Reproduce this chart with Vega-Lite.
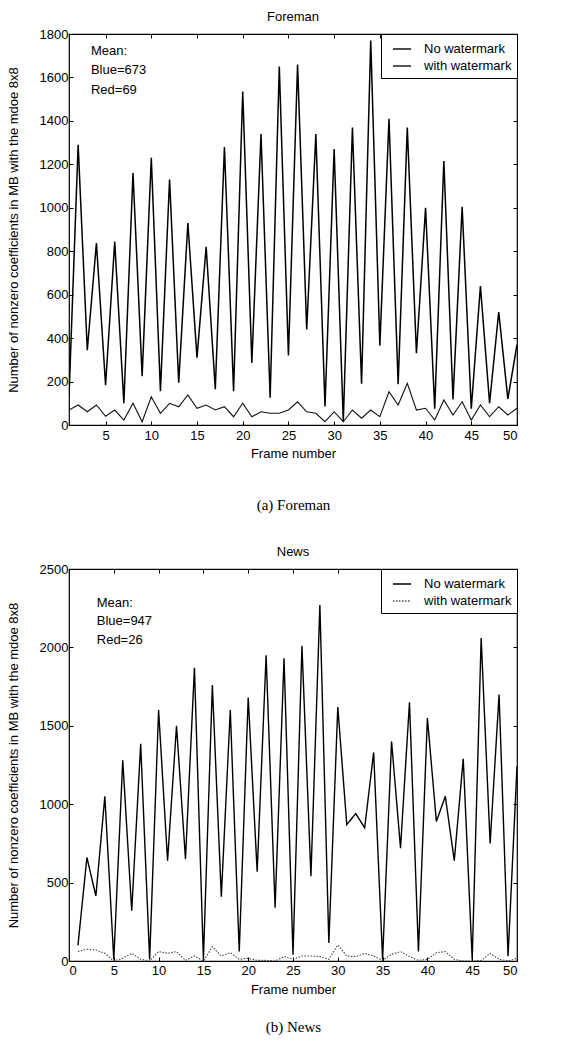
{
  "$schema": "https://vega.github.io/schema/vega-lite/v6.json",
  "background": "white",
  "padding": {"left": 6, "top": 10, "right": 5, "bottom": 5},
  "config": {
    "font": "Liberation Sans",
    "view": {"stroke": "black", "strokeWidth": 1.2},
    "axis": {"domain": false, "grid": false, "labelFont": "Liberation Sans", "labelFontSize": 13, "labelColor": "black", "tickColor": "black", "tickSize": -4, "labelPadding": 5, "titleFont": "Liberation Sans", "titleFontSize": 13, "titleFontWeight": "normal", "titleColor": "black"},
    "title": {"font": "Liberation Sans", "fontSize": 13, "fontWeight": "normal", "color": "black", "offset": 4},
    "legend": {"orient": "top-right", "offset": 0, "strokeColor": "black", "fillColor": "white", "padding": 5, "labelFont": "Liberation Sans", "labelFontSize": 13, "labelColor": "black", "symbolType": "stroke", "symbolSize": 330, "symbolStrokeWidth": 1.4, "symbolOffset": 6, "labelOffset": 12, "rowPadding": 0, "title": null},
    "concat": {"spacing": 32}
  },
  "resolve": {"scale": {"color": "independent", "strokeDash": "independent"}, "legend": {"color": "independent", "strokeDash": "independent"}},
  "datasets": {
    "foreman": [
      {"frame": 1, "value": 130, "series": "No watermark"}, {"frame": 2, "value": 1290, "series": "No watermark"}, {"frame": 3, "value": 344, "series": "No watermark"}, {"frame": 4, "value": 838, "series": "No watermark"}, {"frame": 5, "value": 183, "series": "No watermark"},
      {"frame": 6, "value": 844, "series": "No watermark"}, {"frame": 7, "value": 100, "series": "No watermark"}, {"frame": 8, "value": 1160, "series": "No watermark"}, {"frame": 9, "value": 225, "series": "No watermark"}, {"frame": 10, "value": 1230, "series": "No watermark"},
      {"frame": 11, "value": 155, "series": "No watermark"}, {"frame": 12, "value": 1130, "series": "No watermark"}, {"frame": 13, "value": 195, "series": "No watermark"}, {"frame": 14, "value": 930, "series": "No watermark"}, {"frame": 15, "value": 310, "series": "No watermark"},
      {"frame": 16, "value": 820, "series": "No watermark"}, {"frame": 17, "value": 165, "series": "No watermark"}, {"frame": 18, "value": 1280, "series": "No watermark"}, {"frame": 19, "value": 155, "series": "No watermark"}, {"frame": 20, "value": 1535, "series": "No watermark"},
      {"frame": 21, "value": 285, "series": "No watermark"}, {"frame": 22, "value": 1340, "series": "No watermark"}, {"frame": 23, "value": 125, "series": "No watermark"}, {"frame": 24, "value": 1650, "series": "No watermark"}, {"frame": 25, "value": 320, "series": "No watermark"},
      {"frame": 26, "value": 1660, "series": "No watermark"}, {"frame": 27, "value": 440, "series": "No watermark"}, {"frame": 28, "value": 1340, "series": "No watermark"}, {"frame": 29, "value": 85, "series": "No watermark"}, {"frame": 30, "value": 1270, "series": "No watermark"},
      {"frame": 31, "value": 15, "series": "No watermark"}, {"frame": 32, "value": 1370, "series": "No watermark"}, {"frame": 33, "value": 190, "series": "No watermark"}, {"frame": 34, "value": 1770, "series": "No watermark"}, {"frame": 35, "value": 365, "series": "No watermark"},
      {"frame": 36, "value": 1410, "series": "No watermark"}, {"frame": 37, "value": 188, "series": "No watermark"}, {"frame": 38, "value": 1370, "series": "No watermark"}, {"frame": 39, "value": 330, "series": "No watermark"}, {"frame": 40, "value": 1000, "series": "No watermark"},
      {"frame": 41, "value": 75, "series": "No watermark"}, {"frame": 42, "value": 1215, "series": "No watermark"}, {"frame": 43, "value": 118, "series": "No watermark"}, {"frame": 44, "value": 1005, "series": "No watermark"}, {"frame": 45, "value": 75, "series": "No watermark"},
      {"frame": 46, "value": 640, "series": "No watermark"}, {"frame": 47, "value": 100, "series": "No watermark"}, {"frame": 48, "value": 520, "series": "No watermark"}, {"frame": 49, "value": 120, "series": "No watermark"}, {"frame": 50, "value": 370, "series": "No watermark"},
      {"frame": 1, "value": 69, "series": "with watermark"}, {"frame": 2, "value": 92, "series": "with watermark"}, {"frame": 3, "value": 61, "series": "with watermark"}, {"frame": 4, "value": 92, "series": "with watermark"}, {"frame": 5, "value": 40, "series": "with watermark"},
      {"frame": 6, "value": 69, "series": "with watermark"}, {"frame": 7, "value": 23, "series": "with watermark"}, {"frame": 8, "value": 100, "series": "with watermark"}, {"frame": 9, "value": 15, "series": "with watermark"}, {"frame": 10, "value": 130, "series": "with watermark"},
      {"frame": 11, "value": 54, "series": "with watermark"}, {"frame": 12, "value": 100, "series": "with watermark"}, {"frame": 13, "value": 84, "series": "with watermark"}, {"frame": 14, "value": 138, "series": "with watermark"}, {"frame": 15, "value": 77, "series": "with watermark"},
      {"frame": 16, "value": 92, "series": "with watermark"}, {"frame": 17, "value": 69, "series": "with watermark"}, {"frame": 18, "value": 84, "series": "with watermark"}, {"frame": 19, "value": 38, "series": "with watermark"}, {"frame": 20, "value": 100, "series": "with watermark"},
      {"frame": 21, "value": 38, "series": "with watermark"}, {"frame": 22, "value": 61, "series": "with watermark"}, {"frame": 23, "value": 54, "series": "with watermark"}, {"frame": 24, "value": 54, "series": "with watermark"}, {"frame": 25, "value": 69, "series": "with watermark"},
      {"frame": 26, "value": 107, "series": "with watermark"}, {"frame": 27, "value": 61, "series": "with watermark"}, {"frame": 28, "value": 54, "series": "with watermark"}, {"frame": 29, "value": 15, "series": "with watermark"}, {"frame": 30, "value": 61, "series": "with watermark"},
      {"frame": 31, "value": 15, "series": "with watermark"}, {"frame": 32, "value": 69, "series": "with watermark"}, {"frame": 33, "value": 31, "series": "with watermark"}, {"frame": 34, "value": 69, "series": "with watermark"}, {"frame": 35, "value": 38, "series": "with watermark"},
      {"frame": 36, "value": 153, "series": "with watermark"}, {"frame": 37, "value": 92, "series": "with watermark"}, {"frame": 38, "value": 192, "series": "with watermark"}, {"frame": 39, "value": 69, "series": "with watermark"}, {"frame": 40, "value": 77, "series": "with watermark"},
      {"frame": 41, "value": 23, "series": "with watermark"}, {"frame": 42, "value": 115, "series": "with watermark"}, {"frame": 43, "value": 46, "series": "with watermark"}, {"frame": 44, "value": 107, "series": "with watermark"}, {"frame": 45, "value": 23, "series": "with watermark"},
      {"frame": 46, "value": 92, "series": "with watermark"}, {"frame": 47, "value": 38, "series": "with watermark"}, {"frame": 48, "value": 84, "series": "with watermark"}, {"frame": 49, "value": 46, "series": "with watermark"}, {"frame": 50, "value": 77, "series": "with watermark"}
    ],
    "news": [
      {"frame": 1, "value": 100, "series": "No watermark"}, {"frame": 2, "value": 660, "series": "No watermark"}, {"frame": 3, "value": 415, "series": "No watermark"}, {"frame": 4, "value": 1050, "series": "No watermark"}, {"frame": 5, "value": 10, "series": "No watermark"},
      {"frame": 6, "value": 1280, "series": "No watermark"}, {"frame": 7, "value": 320, "series": "No watermark"}, {"frame": 8, "value": 1385, "series": "No watermark"}, {"frame": 9, "value": 10, "series": "No watermark"}, {"frame": 10, "value": 1600, "series": "No watermark"},
      {"frame": 11, "value": 640, "series": "No watermark"}, {"frame": 12, "value": 1500, "series": "No watermark"}, {"frame": 13, "value": 650, "series": "No watermark"}, {"frame": 14, "value": 1870, "series": "No watermark"}, {"frame": 15, "value": 10, "series": "No watermark"},
      {"frame": 16, "value": 1760, "series": "No watermark"}, {"frame": 17, "value": 410, "series": "No watermark"}, {"frame": 18, "value": 1600, "series": "No watermark"}, {"frame": 19, "value": 60, "series": "No watermark"}, {"frame": 20, "value": 1680, "series": "No watermark"},
      {"frame": 21, "value": 570, "series": "No watermark"}, {"frame": 22, "value": 1950, "series": "No watermark"}, {"frame": 23, "value": 340, "series": "No watermark"}, {"frame": 24, "value": 1930, "series": "No watermark"}, {"frame": 25, "value": 40, "series": "No watermark"},
      {"frame": 26, "value": 2010, "series": "No watermark"}, {"frame": 27, "value": 540, "series": "No watermark"}, {"frame": 28, "value": 2270, "series": "No watermark"}, {"frame": 29, "value": 115, "series": "No watermark"}, {"frame": 30, "value": 1620, "series": "No watermark"},
      {"frame": 31, "value": 870, "series": "No watermark"}, {"frame": 32, "value": 940, "series": "No watermark"}, {"frame": 33, "value": 850, "series": "No watermark"}, {"frame": 34, "value": 1330, "series": "No watermark"}, {"frame": 35, "value": 10, "series": "No watermark"},
      {"frame": 36, "value": 1400, "series": "No watermark"}, {"frame": 37, "value": 720, "series": "No watermark"}, {"frame": 38, "value": 1650, "series": "No watermark"}, {"frame": 39, "value": 60, "series": "No watermark"}, {"frame": 40, "value": 1550, "series": "No watermark"},
      {"frame": 41, "value": 890, "series": "No watermark"}, {"frame": 42, "value": 1050, "series": "No watermark"}, {"frame": 43, "value": 640, "series": "No watermark"}, {"frame": 44, "value": 1290, "series": "No watermark"}, {"frame": 45, "value": 10, "series": "No watermark"},
      {"frame": 46, "value": 2060, "series": "No watermark"}, {"frame": 47, "value": 750, "series": "No watermark"}, {"frame": 48, "value": 1700, "series": "No watermark"}, {"frame": 49, "value": 30, "series": "No watermark"}, {"frame": 50, "value": 1240, "series": "No watermark"},
      {"frame": 1, "value": 60, "series": "with watermark"}, {"frame": 2, "value": 75, "series": "with watermark"}, {"frame": 3, "value": 70, "series": "with watermark"}, {"frame": 4, "value": 49, "series": "with watermark"}, {"frame": 5, "value": 0, "series": "with watermark"},
      {"frame": 6, "value": 17, "series": "with watermark"}, {"frame": 7, "value": 49, "series": "with watermark"}, {"frame": 8, "value": 11, "series": "with watermark"}, {"frame": 9, "value": 0, "series": "with watermark"}, {"frame": 10, "value": 60, "series": "with watermark"},
      {"frame": 11, "value": 49, "series": "with watermark"}, {"frame": 12, "value": 60, "series": "with watermark"}, {"frame": 13, "value": 4, "series": "with watermark"}, {"frame": 14, "value": 32, "series": "with watermark"}, {"frame": 15, "value": 0, "series": "with watermark"},
      {"frame": 16, "value": 91, "series": "with watermark"}, {"frame": 17, "value": 32, "series": "with watermark"}, {"frame": 18, "value": 53, "series": "with watermark"}, {"frame": 19, "value": 11, "series": "with watermark"}, {"frame": 20, "value": 17, "series": "with watermark"},
      {"frame": 21, "value": 4, "series": "with watermark"}, {"frame": 22, "value": 4, "series": "with watermark"}, {"frame": 23, "value": 0, "series": "with watermark"}, {"frame": 24, "value": 28, "series": "with watermark"}, {"frame": 25, "value": 11, "series": "with watermark"},
      {"frame": 26, "value": 32, "series": "with watermark"}, {"frame": 27, "value": 32, "series": "with watermark"}, {"frame": 28, "value": 28, "series": "with watermark"}, {"frame": 29, "value": 11, "series": "with watermark"}, {"frame": 30, "value": 102, "series": "with watermark"},
      {"frame": 31, "value": 32, "series": "with watermark"}, {"frame": 32, "value": 28, "series": "with watermark"}, {"frame": 33, "value": 49, "series": "with watermark"}, {"frame": 34, "value": 32, "series": "with watermark"}, {"frame": 35, "value": 4, "series": "with watermark"},
      {"frame": 36, "value": 43, "series": "with watermark"}, {"frame": 37, "value": 60, "series": "with watermark"}, {"frame": 38, "value": 28, "series": "with watermark"}, {"frame": 39, "value": 4, "series": "with watermark"}, {"frame": 40, "value": 11, "series": "with watermark"},
      {"frame": 41, "value": 53, "series": "with watermark"}, {"frame": 42, "value": 60, "series": "with watermark"}, {"frame": 43, "value": 11, "series": "with watermark"}, {"frame": 44, "value": 0, "series": "with watermark"}, {"frame": 45, "value": 0, "series": "with watermark"},
      {"frame": 46, "value": 4, "series": "with watermark"}, {"frame": 47, "value": 49, "series": "with watermark"}, {"frame": 48, "value": 11, "series": "with watermark"}, {"frame": 49, "value": 0, "series": "with watermark"}, {"frame": 50, "value": 17, "series": "with watermark"}
    ]
  },
  "vconcat": [
    {
      "width": 448, "height": 391,
      "title": "Foreman",
      "data": {"name": "foreman"},
      "resolve": {"axis": {"x": "independent", "y": "independent"}},
      "layer": [
        {
          "transform": [{"filter": "datum.series == 'No watermark'"}],
          "mark": {"type": "line", "strokeWidth": 1.5, "clip": true},
          "encoding": {
            "x": {"field": "frame", "type": "quantitative", "scale": {"domain": [1, 50], "nice": false, "zero": false},
                  "axis": {"orient": "bottom", "values": [5, 10, 15, 20, 25, 30, 35, 40, 45, 50], "title": "Frame number", "labelPadding": 8, "titlePadding": 5}},
            "y": {"field": "value", "type": "quantitative", "scale": {"domain": [0, 1800], "nice": false},
                  "axis": {"orient": "left", "values": [0, 200, 400, 600, 800, 1000, 1200, 1400, 1600, 1800], "format": "d", "title": "Number of nonzero coefficients in MB with the mdoe 8x8", "titlePadding": 19}},
            "color": {"field": "series", "type": "nominal", "scale": {"domain": ["No watermark", "with watermark"], "range": ["#000000", "#111111"]}}
          }
        },
        {
          "transform": [{"filter": "datum.series == 'with watermark'"}],
          "mark": {"type": "line", "strokeWidth": 1.1, "clip": true},
          "encoding": {
            "x": {"field": "frame", "type": "quantitative", "axis": {"orient": "top", "values": [5, 10, 15, 20, 25, 30, 35, 40, 45, 50], "labels": false, "title": null}},
            "y": {"field": "value", "type": "quantitative", "axis": {"orient": "right", "values": [0, 200, 400, 600, 800, 1000, 1200, 1400, 1600, 1800], "labels": false, "title": null}},
            "color": {"field": "series", "type": "nominal"}
          }
        },
        {
          "mark": {"type": "line", "opacity": 0},
          "encoding": {
            "x": {"field": "frame", "type": "quantitative", "axis": {"orient": "bottom", "ticks": false, "labels": false, "title": "(a) Foreman", "titleFont": "Liberation Serif", "titleFontSize": 15, "titlePadding": 72}},
            "y": {"field": "value", "type": "quantitative", "axis": null}
          }
        },
        {
          "data": {"values": [{"note": "Mean:\nBlue=673\nRed=69"}]},
          "mark": {"type": "text", "align": "left", "baseline": "top", "lineBreak": "\n", "lineHeight": 19.5, "fontSize": 13, "font": "Liberation Sans", "color": "black"},
          "encoding": {
            "x": {"datum": 3.4, "type": "quantitative", "axis": null},
            "y": {"datum": 1750, "type": "quantitative", "axis": null},
            "text": {"field": "note"}
          }
        }
      ]
    },
    {
      "width": 448, "height": 392,
      "title": "News",
      "data": {"name": "news"},
      "resolve": {"axis": {"x": "independent", "y": "independent"}},
      "layer": [
        {
          "transform": [{"filter": "datum.series == 'No watermark'"}],
          "mark": {"type": "line", "strokeWidth": 1.4, "clip": true},
          "encoding": {
            "x": {"field": "frame", "type": "quantitative", "scale": {"domain": [0, 50], "nice": false, "zero": false},
                  "axis": {"orient": "bottom", "values": [0, 5, 10, 15, 20, 25, 30, 35, 40, 45, 50], "title": "Frame number", "labelPadding": 7, "titlePadding": 6}},
            "y": {"field": "value", "type": "quantitative", "scale": {"domain": [0, 2500], "nice": false},
                  "axis": {"orient": "left", "values": [0, 500, 1000, 1500, 2000, 2500], "format": "d", "title": "Number of nonzero coefficients in MB with the mdoe 8x8", "titlePadding": 19}},
            "color": {"field": "series", "type": "nominal", "scale": {"domain": ["No watermark", "with watermark"], "range": ["#000000", "#444444"]}},
            "strokeDash": {"field": "series", "type": "nominal", "scale": {"domain": ["No watermark", "with watermark"], "range": [[1, 0], [1.5, 1.5]]}}
          }
        },
        {
          "transform": [{"filter": "datum.series == 'with watermark'"}],
          "mark": {"type": "line", "strokeWidth": 1.1, "clip": true},
          "encoding": {
            "x": {"field": "frame", "type": "quantitative", "axis": {"orient": "top", "values": [0, 5, 10, 15, 20, 25, 30, 35, 40, 45, 50], "labels": false, "title": null}},
            "y": {"field": "value", "type": "quantitative", "axis": {"orient": "right", "values": [0, 500, 1000, 1500, 2000, 2500], "labels": false, "title": null}},
            "color": {"field": "series", "type": "nominal"},
            "strokeDash": {"field": "series", "type": "nominal"}
          }
        },
        {
          "mark": {"type": "line", "opacity": 0},
          "encoding": {
            "x": {"field": "frame", "type": "quantitative", "axis": {"orient": "bottom", "ticks": false, "labels": false, "title": "(b) News", "titleFont": "Liberation Serif", "titleFontSize": 15, "titlePadding": 58}},
            "y": {"field": "value", "type": "quantitative", "axis": null}
          }
        },
        {
          "data": {"values": [{"note": "Mean:\nBlue=947\nRed=26"}]},
          "mark": {"type": "text", "align": "left", "baseline": "top", "lineBreak": "\n", "lineHeight": 18.5, "fontSize": 13, "font": "Liberation Sans", "color": "black"},
          "encoding": {
            "x": {"datum": 3.1, "type": "quantitative", "axis": null},
            "y": {"datum": 2323, "type": "quantitative", "axis": null},
            "text": {"field": "note"}
          }
        }
      ]
    }
  ]
}
